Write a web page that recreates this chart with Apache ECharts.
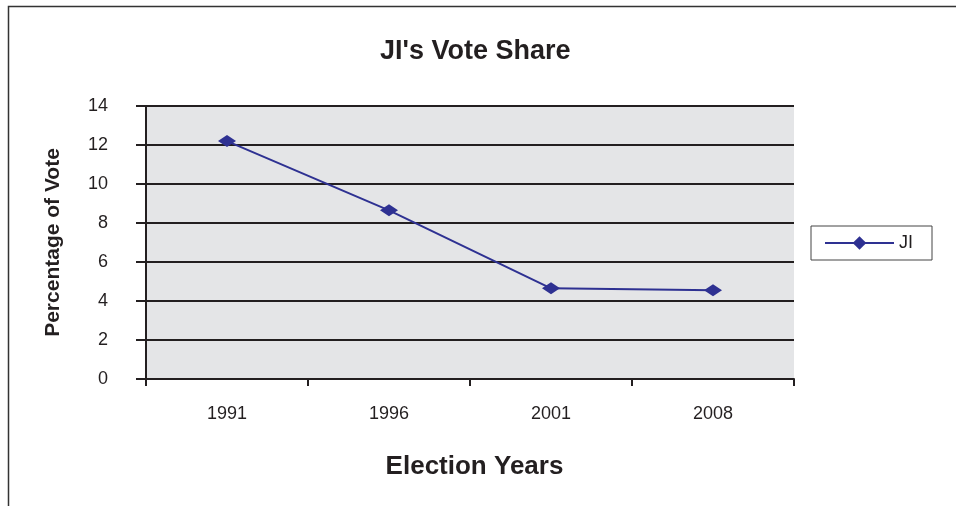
<!DOCTYPE html>
<html>
<head>
<meta charset="utf-8">
<script src="https://cdn.jsdelivr.net/npm/echarts@6/dist/echarts.min.js"></script>
<style>html,body{margin:0;padding:0;background:#fff;}#c{width:956px;height:506px;}</style>
</head>
<body>
<div id="c"></div>
<script>
const categories = ['1991', '1996', '2001', '2008'];
const voteShare = [12.2, 8.65, 4.65, 4.55];
const seriesName = 'JI';
const titleText = "JI's Vote Share";
const xName = 'Election Years';
const yName = 'Percentage of Vote';

const chart = echarts.init(document.getElementById('c'), null, {renderer: 'canvas'});
const font = 'Liberation Sans, Arial, sans-serif';
chart.setOption({
  animation: false,
  backgroundColor: '#fff',
  title: {
    text: titleText, left: 380, top: 38, padding: 0,
    textStyle: {fontFamily: font, fontSize: 27, fontWeight: 'bold', color: '#231f20'}
  },
  graphic: [{
    type: 'rect', left: 6, top: 4, silent: true, z: -1,
    shape: {width: 1000, height: 600},
    style: {fill: 'none', stroke: '#333', lineWidth: 1.5}
  }],
  legend: {
    data: [seriesName],
    left: 811, top: 226,
    padding: [8, 19, 8, 13],
    itemWidth: 69, itemHeight: 17, itemGap: 7,
    borderColor: '#444', borderWidth: 1,
    textStyle: {fontFamily: font, fontSize: 18, color: '#231f20'}
  },
  grid: {
    left: 146, right: 162, top: 106, bottom: 127,
    show: true, backgroundColor: '#e4e5e7', borderWidth: 0
  },
  xAxis: {
    type: 'category', data: categories, boundaryGap: true,
    name: xName, nameLocation: 'middle', nameGap: 75,
    nameTextStyle: {fontFamily: font, fontSize: 26, fontWeight: 'bold', color: '#231f20', padding: [0, 0, 0, 9]},
    axisLine: {lineStyle: {color: '#231f20', width: 2}},
    axisTick: {show: true, length: 7, inside: false, lineStyle: {color: '#231f20', width: 2}},
    axisLabel: {margin: 26, fontFamily: font, fontSize: 18, color: '#231f20'}
  },
  yAxis: {
    type: 'value', min: 0, max: 14, interval: 2,
    name: yName, nameLocation: 'middle', nameGap: 82,
    nameTextStyle: {fontFamily: font, fontSize: 21, fontWeight: 'bold', color: '#231f20'},
    axisLine: {show: true, lineStyle: {color: '#231f20', width: 2}},
    axisTick: {show: true, length: 10, inside: false, lineStyle: {color: '#231f20', width: 2}},
    axisLabel: {margin: 38, fontFamily: font, fontSize: 18, color: '#231f20'},
    splitLine: {show: true, lineStyle: {color: '#231f20', width: 2}}
  },
  series: [{
    name: seriesName, type: 'line', data: voteShare,
    symbol: 'diamond', symbolSize: [18, 12],
    itemStyle: {color: '#2e3192'},
    lineStyle: {color: '#2e3192', width: 2}
  }]
});
</script>
</body>
</html>
